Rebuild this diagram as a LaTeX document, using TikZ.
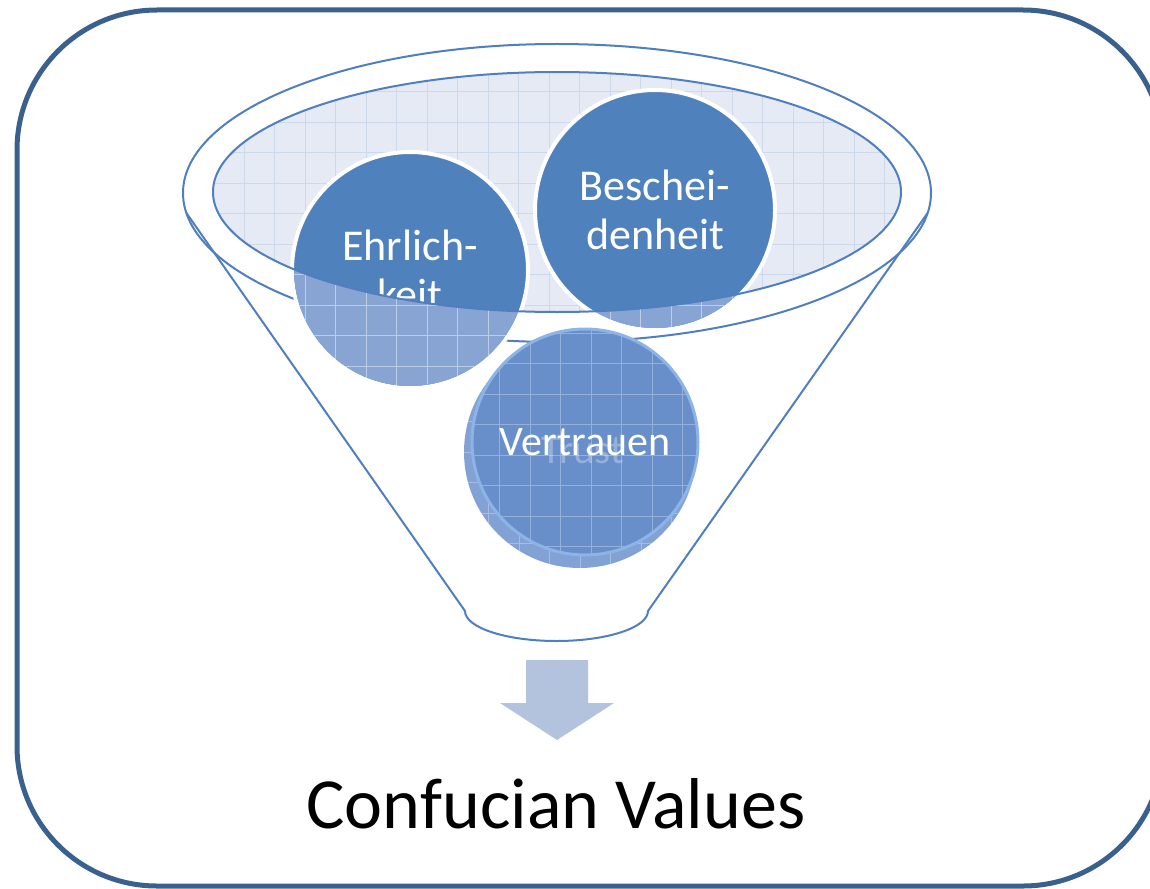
\documentclass[tikz,border=0pt]{standalone}
\usepackage{fontspec}
\setmainfont{Carlito}
\usepackage{xcolor}
\usepackage{tikz}
\usetikzlibrary{positioning}

\definecolor{frameblue}{RGB}{58,96,142}
\definecolor{funnelblue}{RGB}{79,127,190}
\definecolor{valueblue}{RGB}{79,129,189}
\definecolor{valuelight}{RGB}{136,164,211}
\definecolor{bowlfill}{RGB}{229,234,244}
\definecolor{bowlgrid}{RGB}{206,216,235}
\definecolor{trustblue}{RGB}{104,143,201}
\definecolor{trustback}{RGB}{130,161,212}
\definecolor{trustrim}{RGB}{141,180,230}
\definecolor{arrowblue}{RGB}{179,195,221}

\begin{document}
\begin{tikzpicture}[x=1pt, y=-1pt,
    value/.style={circle, inner sep=0pt, minimum size=236pt, fill=valueblue, draw=white, line width=4pt, text=white, align=center, font=\fontsize{44}{49}\selectfont},
    funnel/.style={draw=funnelblue, line width=2pt},
    gridline/.style={step=30.5pt, line width=0.8pt},
    patterned/.style={path picture={\draw[gridline, white, opacity=0.3] (path picture bounding box.south west) grid (path picture bounding box.north east);}}]
    \useasboundingbox (0,0) rectangle (1150,888);

    % Coordinates
    \coordinate (rim) at (557,193);
    \coordinate (bowl) at (557,192);

    % Frame
    \draw[frameblue, line width=5pt, rounded corners=140pt] (17,10) rectangle (1163,886);

    % Funnel
    \draw[funnel] (rim) ellipse[x radius=374, y radius=149];
    \draw[funnel, line join=round] (186.4,213) -- (465,611) arc[start angle=180, end angle=0, x radius=91.5, y radius=30] -- (927.6,213);

    % Bowl
    \begin{scope}
        \clip (bowl) ellipse[x radius=344, y radius=120];
        \fill[bowlfill] (bowl) ellipse[x radius=344, y radius=120];
        \draw[gridline, bowlgrid] (0,888) grid (1150,0);
    \end{scope}

    % Values in the bowl
    \node[value] (ehrlich) at (410,270) {Ehrlich-\\keit};
    \node[value, minimum size=240pt] (bescheiden) at (655,210) {Beschei-\\denheit};

    % Parts below the bowl
    \foreach \v/\r in {ehrlich/116, bescheiden/118} {
        \begin{scope}
            \clip (\v.center) circle[radius=\r];
            \begin{scope}[even odd rule]
                \clip (0,0) rectangle (1150,888) (bowl) ellipse[x radius=344, y radius=120];
                \fill[valuelight] (0,0) rectangle (1150,888);
                \draw[gridline, white, opacity=0.45] (0,888) grid (1150,0);
            \end{scope}
        \end{scope}
    }
    \draw[funnel] (bowl) ellipse[x radius=344, y radius=120];

    % Value in the neck
    \node[circle, inner sep=0pt, minimum size=232pt, fill=trustback, patterned] (trust) at (580,452) {};
    \node[value, minimum size=226pt, fill=trustblue, draw=trustrim, line width=3pt, patterned, font=\fontsize{42}{48}\selectfont] (vertrauen) at (585,442) {Vertrauen};
    \node[anchor=base, text=white, text opacity=0.3, font=\fontsize{41}{48}\selectfont] (ghost) at (583,463) {Trust};

    % Arrow
    \fill[arrowblue] (526,660) -- (588,660) -- (588,703) -- (614,703) -- (557,740) -- (500,703) -- (526,703) -- cycle;

    % Text
    \node[anchor=base, font=\fontsize{72}{86}\selectfont] (values) at (556,828) {Confucian Values};
\end{tikzpicture}
\end{document}
